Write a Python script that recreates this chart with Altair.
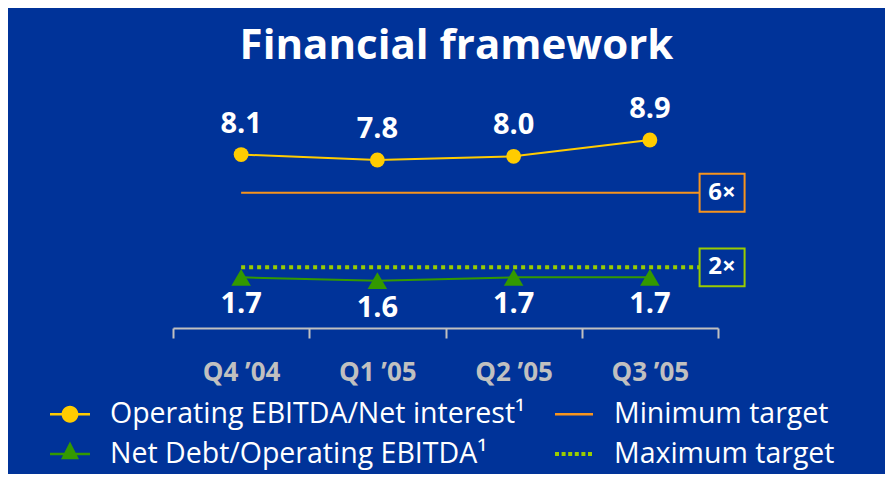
import json
import altair as alt
import pandas as pd

# ---------------- data ----------------
quarters = ["Q4 \u201904", "Q1 \u201905", "Q2 \u201905", "Q3 \u201905"]
ebitda_interest = [8.1, 7.8, 8.0, 8.9]
debt_ebitda = [1.7, 1.6, 1.7, 1.7]
min_target = [6]
max_target = [2]
min_label = ["6\u00d7"]
max_label = ["2\u00d7"]
# legend entries (column by column)
legend_items = [
    "Operating EBITDA/Net interest\u00b9",
    "Net Debt/Operating EBITDA\u00b9",
    "Minimum target",
    "Maximum target",
]

# ---------------- style ----------------
BG = "#003399"
YELLOW = "#FFCC00"
ORANGE = "#F7941D"
GREEN = "#339900"
LIME = "#99CC00"
GREY = "#C0C0C0"
FONT = "Open Sans"

pos = [i + 0.5 for i in range(len(quarters))]
line_end = len(quarters) - 0.13
box_pos = len(quarters) + 0.03

df = pd.DataFrame({"quarter": quarters, "pos": pos,
                   "interest": ebitda_interest, "debt": debt_ebitda})
top_t = pd.DataFrame({"value": min_target, "start": [pos[0]], "end": [line_end],
                      "box": [box_pos], "label": min_label})
bot_t = pd.DataFrame({"value": max_target, "start": [pos[0]], "end": [line_end],
                      "box": [box_pos], "label": max_label})
leg_df = pd.DataFrame({"series": legend_items})

label_arr = json.dumps(quarters)
xaxis = alt.Axis(
    values=[i * 0.5 for i in range(2 * len(quarters) + 1)],
    labelExpr=f"datum.value % 1 === 0 ? '' : {label_arr}[floor(datum.value)]",
    tickOpacity={"condition": {"test": "datum.value % 1 === 0", "value": 1}, "value": 0},
    tickSize=10, tickWidth=2, tickColor=GREY,
    domainColor=GREY, domainWidth=2,
    labelFont=FONT, labelFontSize=26, labelFontWeight="bold", labelColor=GREY,
    labelPadding=21, labelOverlap=False, labelBound=False, labelFlush=False,
    grid=False, title=None,
)
xscale = alt.Scale(domain=[0, len(quarters)], nice=False, zero=False)


def X(field):
    return alt.X(field, type="quantitative", scale=xscale, axis=xaxis)


ytop = alt.Scale(domain=[-1.44, 11.65], nice=False, zero=False)
ybot = alt.Scale(domain=[0.18, 7.32], nice=False, zero=False)

# ---------------- top series ----------------
base_t = alt.Chart(df)
t_line = base_t.mark_line(color=YELLOW, strokeWidth=2).encode(
    x=X("pos"), y=alt.Y("interest:Q", scale=ytop, axis=None))
t_pts = base_t.mark_point(shape="circle", filled=True, color=YELLOW, size=220, opacity=1).encode(
    x=X("pos"), y=alt.Y("interest:Q", scale=ytop, axis=None))
t_txt = base_t.mark_text(font=FONT, fontSize=29, fontWeight="bold", color="white",
                         dy=-31, baseline="middle").encode(
    x=X("pos"), y=alt.Y("interest:Q", scale=ytop, axis=None),
    text=alt.Text("interest:Q", format=".1f"))
t_rule = alt.Chart(top_t).mark_rule(color=ORANGE, strokeWidth=2).encode(
    x=X("start"), x2="end", y=alt.Y("value:Q", scale=ytop, axis=None))
box_path = "M-1,-0.84H1V0.84H-1Z"
t_box = alt.Chart(top_t).mark_point(shape=box_path, size=2025, filled=True, fill=BG,
                                    stroke=ORANGE, strokeWidth=2, opacity=1).encode(
    x=X("box"), y=alt.Y("value:Q", scale=ytop, axis=None))
t_btxt = alt.Chart(top_t).mark_text(font=FONT, fontSize=24, fontWeight="bold", color="white",
                                    baseline="middle").encode(
    x=X("box"), y=alt.Y("value:Q", scale=ytop, axis=None), text="label:N")
top = alt.layer(t_rule, t_line, t_pts, t_txt, t_box, t_btxt)

# ---------------- bottom series ----------------
base_b = alt.Chart(df)
b_rule = alt.Chart(bot_t).mark_rule(color=LIME, strokeWidth=4, strokeDash=[4, 4]).encode(
    x=X("start"), x2="end", y=alt.Y("value:Q", scale=ybot, axis=None))
b_line = base_b.mark_line(color=GREEN, strokeWidth=2).encode(
    x=X("pos"), y=alt.Y("debt:Q", scale=ybot, axis=None))
b_pts = base_b.mark_point(shape="triangle-up", filled=True, color=GREEN, size=380, opacity=1).encode(
    x=X("pos"), y=alt.Y("debt:Q", scale=ybot, axis=None))
b_txt = base_b.mark_text(font=FONT, fontSize=29, fontWeight="bold", color="white",
                         dy=27, baseline="middle").encode(
    x=X("pos"), y=alt.Y("debt:Q", scale=ybot, axis=None),
    text=alt.Text("debt:Q", format=".1f"))
b_box = alt.Chart(bot_t).mark_point(shape=box_path, size=2025, filled=True, fill=BG,
                                    stroke=LIME, strokeWidth=2, opacity=1).encode(
    x=X("box"), y=alt.Y("value:Q", scale=ybot, axis=None))
b_btxt = alt.Chart(bot_t).mark_text(font=FONT, fontSize=24, fontWeight="bold", color="white",
                                    baseline="middle").encode(
    x=X("box"), y=alt.Y("value:Q", scale=ybot, axis=None), text="label:N")
bottom = alt.layer(b_rule, b_line, b_pts, b_txt, b_box, b_btxt)

# ---------------- legend (symbols drawn by the legend) ----------------
p_circle = ("M-1,-0.065H1V0.065H-1Z "
            "M-0.42,0A0.42,0.42 0 1,1 0.42,0A0.42,0.42 0 1,1 -0.42,0Z")
p_tri = "M-1,-0.065H1V0.065H-1Z M0,-0.62L0.45,0.26L-0.45,0.26Z"
p_line = "M-0.95,-0.06H0.95V0.06H-0.95Z"
p_dots = " ".join(
    f"M{x0:.2f},-0.1H{x0 + 0.2:.2f}V0.1H{x0:.2f}Z" for x0 in [-0.95, -0.62, -0.29, 0.04, 0.37, 0.70]
)
leg_kw = dict(orient="none", legendX=-123, legendY=304, columns=2, title=None,
              symbolSize=1600, symbolStrokeWidth=0, symbolOpacity=1,
              labelFont=FONT, labelFontSize=28.5, labelColor="white", labelLimit=0,
              labelOffset=20, columnPadding=28, rowPadding=5, padding=0)
leg = alt.Chart(leg_df).mark_point(filled=True, opacity=1).encode(
    color=alt.Color("series:N", scale=alt.Scale(domain=legend_items,
                                               range=[YELLOW, GREEN, ORANGE, LIME]),
                    legend=alt.Legend(**leg_kw)),
    shape=alt.Shape("series:N", scale=alt.Scale(domain=legend_items,
                                               range=[p_circle, p_tri, p_line, p_dots]),
                    legend=alt.Legend(**leg_kw)),
).transform_filter("false")

chart = alt.layer(top, bottom, leg).resolve_scale(y="independent").properties(
    width=545, height=238,
    padding={"left": 165, "top": 82, "right": 167, "bottom": 146},
    autosize=alt.AutoSizeParams(type="none"),
    background=BG,
    title=alt.Title("Financial framework", font=FONT, fontSize=42, fontWeight="bold",
                    color="white", anchor="middle", dx=11, offset=22),
).configure_view(stroke=None)

chart.save("out.html", embed_options={"renderer": "svg", "actions": False})
